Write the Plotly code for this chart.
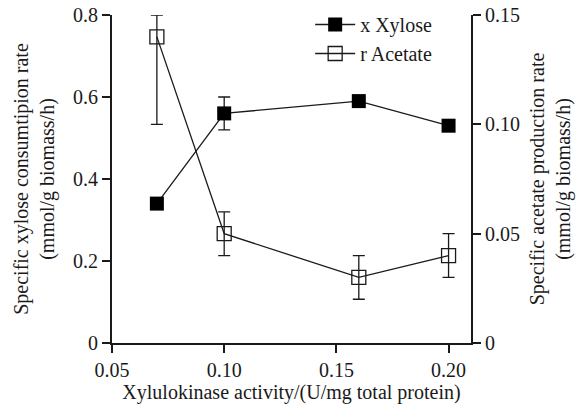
import plotly.graph_objects as go

activity = [0.07, 0.10, 0.16, 0.20]
xylose = [0.34, 0.56, 0.59, 0.53]
xylose_err = [0.0, 0.04, 0.0, 0.0]
acetate = [0.14, 0.05, 0.03, 0.04]
acetate_err_up = [0.01, 0.01, 0.01, 0.01]
acetate_err_down = [0.04, 0.01, 0.01, 0.01]

x_ticks = [0.05, 0.10, 0.15, 0.20]
x_ticklabels = ["0.05", "0.10", "0.15", "0.20"]
y1_ticks = [0, 0.2, 0.4, 0.6, 0.8]
y1_ticklabels = ["0", "0.2", "0.4", "0.6", "0.8"]
y2_ticks = [0, 0.05, 0.10, 0.15]
y2_ticklabels = ["0", "0.05", "0.10", "0.15"]

FONT = "Liberation Serif"
INK = "#1a1a1a"
FS = 20

fig = go.Figure()
fig.add_trace(go.Scatter(
    x=activity, y=xylose, name="x Xylose", mode="lines+markers",
    line=dict(color=INK, width=1.3),
    marker=dict(symbol="square", size=14, color="black"),
    error_y=dict(type="data", array=xylose_err, visible=True, color=INK, thickness=1.3, width=6),
    yaxis="y",
))
fig.add_trace(go.Scatter(
    x=activity, y=acetate, name="r Acetate", mode="lines+markers",
    line=dict(color=INK, width=1.3),
    marker=dict(symbol="square-open", size=14, color=INK, line=dict(width=1.3)),
    error_y=dict(type="data", symmetric=False, array=acetate_err_up, arrayminus=acetate_err_down,
                 visible=True, color=INK, thickness=1.3, width=6),
    yaxis="y2",
))

axis_common = dict(showgrid=False, zeroline=False, showline=True, linecolor=INK, linewidth=2,
                   ticks="outside", ticklen=8, tickwidth=1.5, tickcolor=INK, automargin=False,
                   tickfont=dict(family=FONT, size=FS, color=INK))

TOP_DOMAIN = 1 - 10 / 338

fig.update_layout(
    width=577, height=406,
    margin=dict(l=112, r=106, t=5, b=63),
    paper_bgcolor="white", plot_bgcolor="rgba(0,0,0,0)",
    font=dict(family=FONT, size=FS, color=INK),
    showlegend=True,
    legend=dict(x=0.552, y=1.0, xanchor="left", yanchor="top",
                bgcolor="rgba(0,0,0,0)",
                font=dict(family=FONT, size=FS, color=INK), tracegroupgap=0, itemwidth=40),
    xaxis=dict(range=[0.05, 0.21], tickvals=x_ticks, ticktext=x_ticklabels,
               title=dict(text="Xylulokinase activity/(U/mg total protein)",
                          font=dict(family=FONT, size=FS, color=INK), standoff=4),
               **axis_common),
    yaxis=dict(range=[0, 0.8], tickvals=y1_ticks, ticktext=y1_ticklabels, domain=[0, TOP_DOMAIN],
               title=dict(text="Specific xylose consumtipion rate<br>(mmol/g biomass/h)",
                          font=dict(family=FONT, size=FS, color=INK), standoff=13),
               **axis_common),
    yaxis2=dict(range=[0, 0.15], tickvals=y2_ticks, ticktext=y2_ticklabels, overlaying="y", side="right",
                title=dict(text="Specific acetate production rate<br>(mmol/g biomass/h)",
                           font=dict(family=FONT, size=FS, color=INK), standoff=11),
                **axis_common),
)

fig.write_html("out.html", config={"displayModeBar": False},
               post_script="document.body.style.margin='0';")
